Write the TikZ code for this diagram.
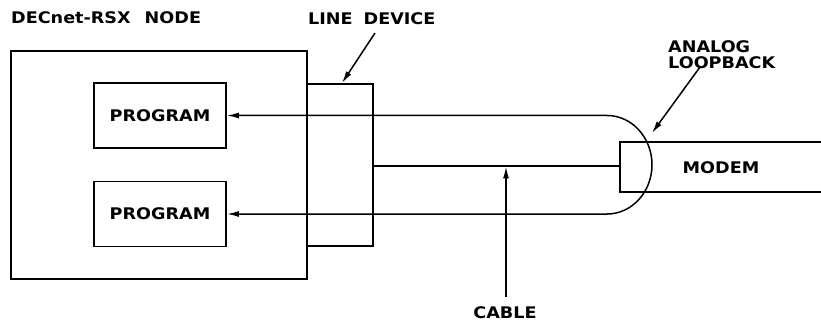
\documentclass[tikz,border=0pt]{standalone}
\usepackage{fontspec}
\newfontfamily\plotfont{DejaVu Sans}[FakeStretch=1.1]
\usetikzlibrary{arrows.meta}
\newcommand{\lbl}{\plotfont\bfseries\fontsize{16}{16}\selectfont}

\begin{document}
\begin{tikzpicture}[x=1pt,y=-1pt,
  heavy/.style={draw,line width=2.8pt,inner sep=0pt},
  progbox/.style={draw,line width=1.8pt,inner sep=0pt,minimum width=132pt,minimum height=65pt,font=\lbl},
  wire/.style={line width=1.5pt},
  tip/.style={-{Latex[length=12pt,width=6pt]}},
  txt/.style={inner sep=0pt,font=\lbl}]
  \path[use as bounding box] (0,0) rectangle (821,323);
  % node and line device
  \node[heavy,minimum width=296pt,minimum height=228pt] (host) at (159,165) {};
  \node[heavy,minimum width=66pt,minimum height=162pt] (dev) at (340,165) {};
  \node[progbox] (prog1) at (160,115.5) {PROGRAM};
  \node[progbox] (prog2) at (160,214) {PROGRAM};
  % modem, open at the right
  \coordinate (modemtl) at (620,142);
  \coordinate (modembl) at (620,192);
  \draw[line width=2.8pt] (821,142) -- (modemtl) -- (modembl) -- (821,192);
  \node[txt] (modem) at (721,168) {MODEM};
  % loop through the cable
  \coordinate (loopa) at (607,115.5);
  \draw[wire,{Latex[length=12pt,width=6pt]}-{Latex[length=12pt,width=6pt]}]
    (prog1.east) -- (loopa) arc[start angle=90,end angle=-90,x radius=45pt,y radius=49.25pt]
    -- (prog2.east);
  \coordinate (modemin) at (620,166);
  \draw[wire] (dev.east |- modemin) -- (modemin);
  % labels
  \node[txt,anchor=west] (hostlbl) at (11,18) {DECnet-RSX\hspace{14pt}NODE};
  \node[txt,anchor=west] (devlbl) at (308,19) {LINE\hspace{11pt}DEVICE};
  \node[txt,anchor=north west,align=left] (looplbl) at (668,40)
    {ANALOG\\[0pt]LOOPBACK};
  \node[txt] (cable) at (505,313) {CABLE};
  \coordinate (devfoot) at (375,33);
  \coordinate (devtip) at (342,83);
  \coordinate (loopfoot) at (700,67);
  \coordinate (looptip) at (652,133);
  \coordinate (cablefoot) at (506,297);
  \coordinate (cabletip) at (506,166.5);
  \draw[wire,tip] (devfoot) -- (devtip);
  \draw[wire,tip] (loopfoot) -- (looptip);
  \draw[wire,tip] (cablefoot) -- (cabletip);
\end{tikzpicture}
\end{document}
